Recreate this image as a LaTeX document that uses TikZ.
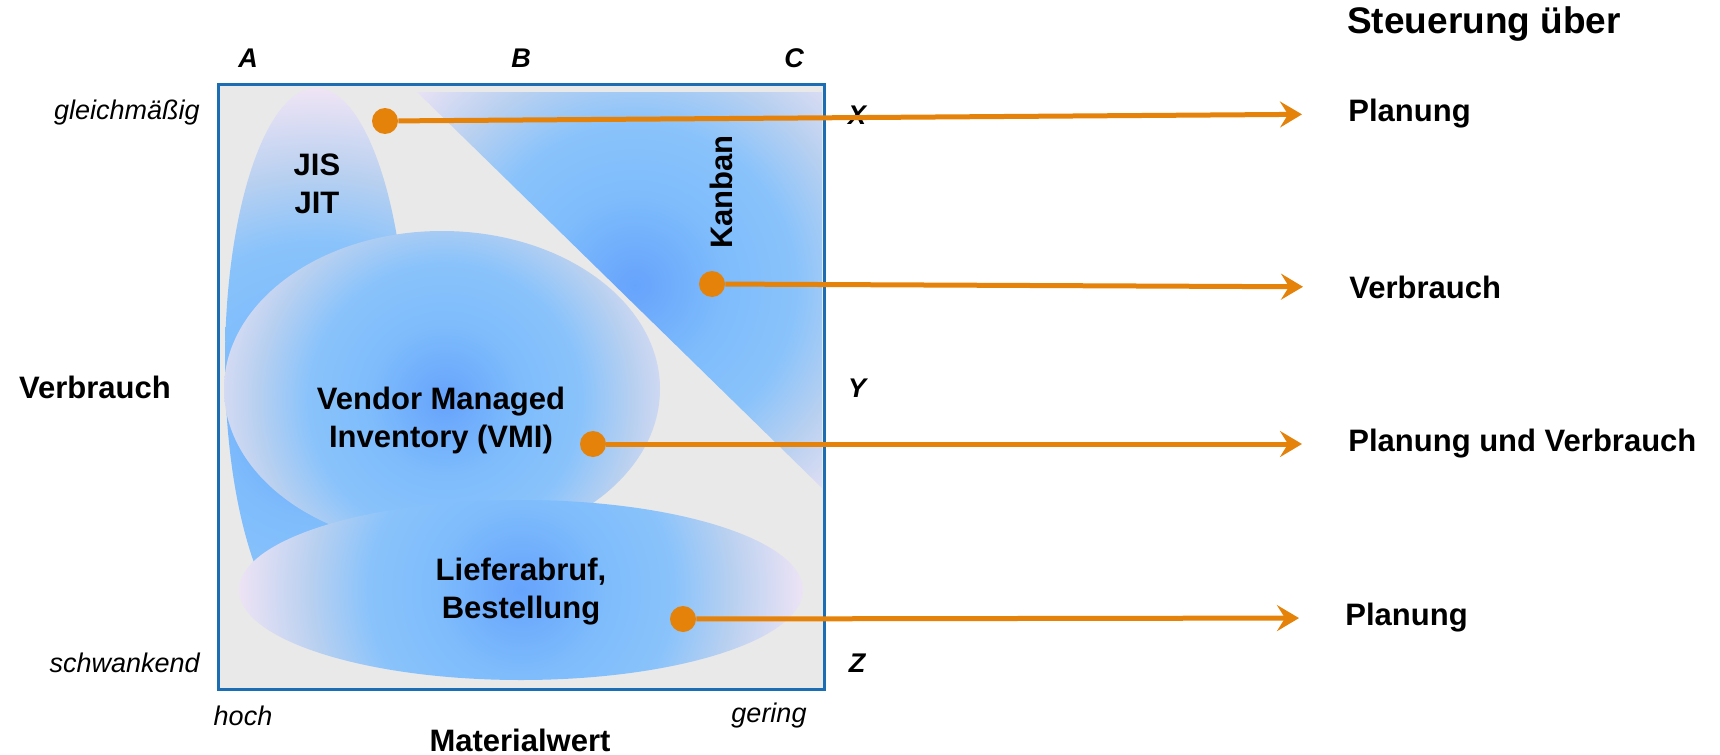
\documentclass[tikz,border=0pt]{standalone}
\usepackage{fontspec}
\setmainfont{Liberation Sans}
\usetikzlibrary{arrows.meta}
\definecolor{boxblue}{HTML}{1B6DB4}
\definecolor{panelgray}{HTML}{E9E9E9}
\definecolor{dotorange}{HTML}{E5820A}
\definecolor{blobIn}{HTML}{66A3FC}
\definecolor{blobSky}{HTML}{7EBCFC}
\definecolor{blobMid}{HTML}{8AC3FB}
\definecolor{blobOut}{HTML}{B8D0F0}
\definecolor{blobEdge}{HTML}{EFE4F5}
\pgfdeclareradialshading{blob}{\pgfpointorigin}{color(0bp)=(blobIn); color(7.5bp)=(blobSky); color(13.5bp)=(blobMid); color(18.5bp)=(blobOut); color(25bp)=(blobEdge); color(50bp)=(blobEdge)}
\tikzstyle{field} = [shading=blob]
\tikzstyle{method} = [font=\bfseries\fontsize{15.5}{19}\selectfont, align=center, inner sep=0pt]
\tikzstyle{target} = [font=\bfseries\fontsize{15.5}{19}\selectfont, anchor=west, inner sep=0pt]
\tikzstyle{axisnote} = [font=\itshape\fontsize{13.5}{16}\selectfont, inner sep=0pt]
\tikzstyle{classnote} = [font=\bfseries\itshape\fontsize{13.5}{16}\selectfont, inner sep=0pt]
\tikzstyle{dot} = [circle, fill=dotorange, minimum size=13pt, inner sep=0pt]
\tikzstyle{arrow} = [draw=dotorange, line width=2.5pt, -{Stealth[length=11pt,width=13pt,inset=4pt]}, shorten >=23pt]

\begin{document}
\begin{tikzpicture}[x=0.5pt, y=-0.5pt]
\useasboundingbox (0,0) rectangle (1720,755);

% portfolio panel
\fill[panelgray] (218,84) rectangle (824,689);
\begin{scope}
  \clip (417,92) -- (822,92) -- (822,488) -- cycle;
  \shade[field] (635,285) circle [radius=300];
\end{scope}
\begin{scope}
  \clip (316,362) ellipse [x radius=91, y radius=274];
  \shade[field] (316,420) circle [radius=332];
\end{scope}
\begin{scope}
  \clip (442,389) ellipse [x radius=218, y radius=158];
  \shade[field] (445,400) circle [radius=255];
\end{scope}
\begin{scope}
  \clip (521,590) ellipse [x radius=282, y radius=90];
  \shade[field] (521,590) circle [radius=285];
\end{scope}
\draw[boxblue, line width=1.5pt] (218,84) rectangle (824,689);

% methods
\node (jis) [method] at (317,184) {JIS\\JIT};
\node (kanban) [method, rotate=90] at (721,192) {Kanban};
\node (vmi) [method] at (441,420) {Vendor Managed\\Inventory (VMI)};
\node (abruf) [method] at (521,592) {Lieferabruf,\\Bestellung};

% axes
\node (colA) [classnote] at (248,58) {A};
\node (colB) [classnote] at (521,58) {B};
\node (colC) [classnote] at (794,58) {C};
\node (rowX) [classnote] at (857,115) {X};
\node (rowY) [classnote] at (857,388) {Y};
\node (rowZ) [classnote] at (857,663) {Z};
\node (even) [axisnote, anchor=east] at (200,113) {gleichmäßig};
\node (vary) [axisnote, anchor=east] at (200,663) {schwankend};
\node (high) [axisnote] at (243,716) {hoch};
\node (low) [axisnote] at (769,716) {gering};
\node (use) [method] at (95,387) {Verbrauch};
\node (value) [method] at (520,740) {Materialwert};

% control
\node (head) [font=\bfseries\fontsize{18.5}{22}\selectfont, inner sep=0pt] at (1484,24) {Steuerung über};
\node (plan1) [target] at (1348,114) {Planung};
\node (cons) [target] at (1349,287) {Verbrauch};
\node (mixed) [target] at (1348,444) {Planung und Verbrauch};
\node (plan2) [target] at (1345,618) {Planung};

\node (d1) [dot] at (385,121) {};
\node (d2) [dot] at (712,284) {};
\node (d3) [dot] at (593,444) {};
\node (d4) [dot] at (683,619) {};

\draw [arrow] (d1) -- (plan1.west);
\draw [arrow] (d2) -- (cons.west);
\draw [arrow] (d3) -- (mixed.west);
\draw [arrow] (d4) -- (plan2.west);
\end{tikzpicture}
\end{document}
